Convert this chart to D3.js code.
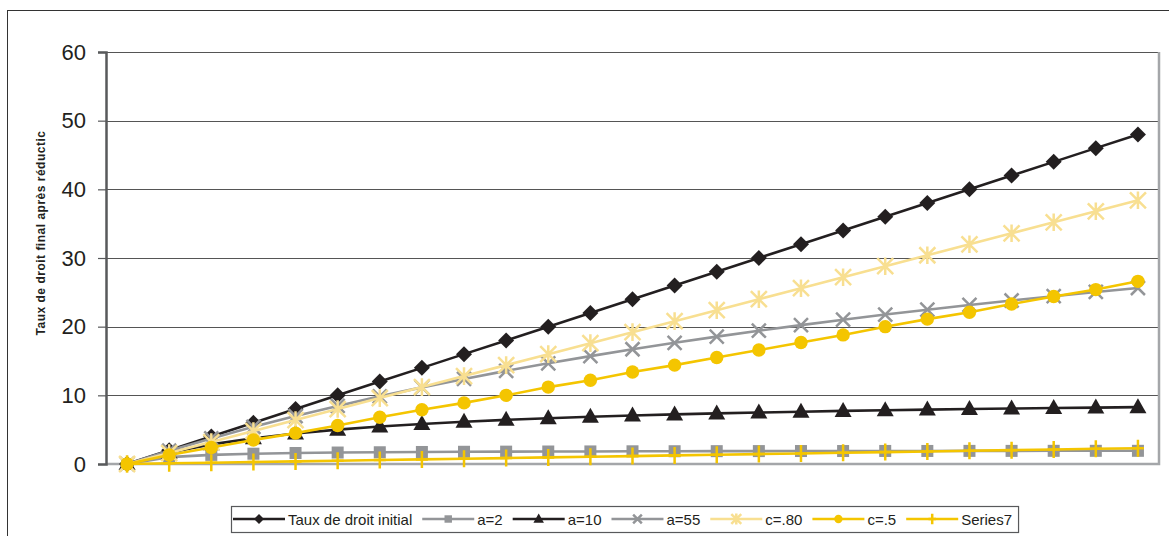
<!DOCTYPE html>
<html>
<head>
<meta charset="utf-8">
<script src="https://cdn.jsdelivr.net/npm/d3@7"></script>
<style>
  body { margin: 0; background: #fff; }
  svg { display: block; font-family: "Liberation Sans", Arial, sans-serif; }
</style>
</head>
<body>
<div id="chart"></div>
<script>
const width = 1169,
      height = 536;

// initial rate (categories) and the reduced rates
const rates = [0, 2, 4, 6, 8, 10, 12, 14, 16, 18, 20, 22, 24, 26, 28, 30, 32, 34, 36, 38, 40, 42, 44, 46, 48];

const initial = [0, 2, 4, 6, 8, 10, 12, 14, 16, 18, 20, 22, 24, 26, 28, 30, 32, 34, 36, 38, 40, 42, 44, 46, 48];
const a2 = [0, 1, 1.33, 1.5, 1.6, 1.67, 1.71, 1.75, 1.78, 1.8, 1.82, 1.83, 1.85, 1.86, 1.87, 1.88, 1.89, 1.89, 1.9, 1.9, 1.91, 1.91, 1.92, 1.92, 1.92];
const a10 = [0, 1.67, 2.86, 3.75, 4.44, 5, 5.45, 5.83, 6.15, 6.43, 6.67, 6.88, 7.06, 7.22, 7.37, 7.5, 7.62, 7.73, 7.83, 7.92, 8, 8.08, 8.15, 8.21, 8.28];
const a55 = [0, 1.93, 3.73, 5.41, 6.98, 8.46, 9.85, 11.16, 12.39, 13.56, 14.67, 15.71, 16.71, 17.65, 18.55, 19.41, 20.23, 21.01, 21.76, 22.47, 23.16, 23.81, 24.44, 25.05, 25.63];
const c80 = [0, 1.6, 3.2, 4.8, 6.4, 8, 9.6, 11.2, 12.8, 14.4, 16, 17.6, 19.2, 20.8, 22.4, 24, 25.6, 27.2, 28.8, 30.4, 32, 33.6, 35.2, 36.8, 38.4];
const c5 = [0, 1.3, 2.4, 3.5, 4.5, 5.6, 6.8, 7.9, 8.9, 10, 11.2, 12.2, 13.4, 14.4, 15.5, 16.6, 17.7, 18.8, 20, 21.1, 22.1, 23.3, 24.4, 25.4, 26.6];
const series7 = [0, 0.1, 0.19, 0.29, 0.38, 0.48, 0.58, 0.67, 0.77, 0.86, 0.96, 1.06, 1.15, 1.25, 1.34, 1.44, 1.54, 1.63, 1.73, 1.82, 1.92, 2.02, 2.11, 2.21, 2.3];

const yTicks = [0, 10, 20, 30, 40, 50, 60];
const yTitle = "Taux de droit final après réductic";

const black = "#231f20",
      gray = "#939598",
      pale = "#f8df91",
      yellow = "#f4c500";

const series = [
  { name: "Taux de droit initial", values: initial, color: black, marker: "diamond" },
  { name: "a=2", values: a2, color: gray, marker: "square" },
  { name: "a=10", values: a10, color: black, marker: "triangle" },
  { name: "a=55", values: a55, color: gray, marker: "x" },
  { name: "c=.80", values: c80, color: pale, marker: "star" },
  { name: "c=.5", values: c5, color: yellow, marker: "circle" },
  { name: "Series7", values: series7, color: yellow, marker: "plus" }
];

const plot = { left: 106, right: 1159, top: 52, bottom: 464 };

const x = d3.scalePoint()
    .domain(rates)
    .range([plot.left, plot.right])
    .padding(0.5);

const y = d3.scaleLinear()
    .domain([0, 60])
    .range([plot.bottom, plot.top]);

const svg = d3.select("#chart")
  .append("svg")
    .attr("width", width)
    .attr("height", height);

// outer chart frame
svg.append("rect")
    .attr("x", 7.5)
    .attr("y", 10.5)
    .attr("width", 1200)
    .attr("height", 600)
    .attr("fill", "none")
    .attr("stroke", "#333")
    .attr("stroke-width", 1);

// gridlines
svg.append("g")
  .selectAll("line")
  .data(yTicks.filter(d => d > 0))
  .enter()
  .append("line")
    .attr("x1", plot.left)
    .attr("x2", plot.right)
    .attr("y1", d => Math.round(y(d)) + 0.5)
    .attr("y2", d => Math.round(y(d)) + 0.5)
    .attr("stroke", "#555")
    .attr("stroke-width", 1.2);

// plot area border (right + bottom)
svg.append("path")
    .attr("d", `M${plot.left},${plot.bottom}H${plot.right}V${plot.top}`)
    .attr("fill", "none")
    .attr("stroke", "#a4a6a9")
    .attr("stroke-width", 2.5);

// y axis
const yAxis = svg.append("g")
    .attr("transform", `translate(${plot.left},0)`)
    .call(d3.axisLeft(y).tickValues(yTicks).tickSize(8).tickPadding(12));

yAxis.select(".domain")
    .attr("stroke", "#58595b")
    .attr("stroke-width", 2.5);
yAxis.selectAll(".tick line")
    .attr("stroke", "#58595b")
    .attr("stroke-width", 1.2);
yAxis.selectAll(".tick text")
    .attr("fill", "#231f20")
    .style("font-family", "'Liberation Sans', Arial, sans-serif")
    .style("font-size", "22px");

// y title
svg.append("text")
    .attr("transform", "translate(45,233) rotate(-90)")
    .attr("text-anchor", "middle")
    .attr("fill", "#231f20")
    .style("font-size", "12px")
    .style("font-weight", "bold")
    .style("letter-spacing", "0.5px")
    .text(yTitle);

// marker drawing
function drawMarker(sel, type, color, s) {
  if (type === "diamond") {
    sel.append("path")
        .attr("d", `M0,${-8 * s}L${8 * s},0L0,${8 * s}L${-8 * s},0Z`)
        .attr("fill", color);
  } else if (type === "square") {
    sel.append("rect")
        .attr("x", -6 * s).attr("y", -6 * s)
        .attr("width", 12 * s).attr("height", 12 * s)
        .attr("fill", color);
  } else if (type === "triangle") {
    sel.append("path")
        .attr("d", `M0,${-9 * s}L${8.5 * s},${6 * s}L${-8.5 * s},${6 * s}Z`)
        .attr("fill", color);
  } else if (type === "circle") {
    sel.append("circle")
        .attr("r", 6.7 * s)
        .attr("fill", color);
  } else if (type === "x") {
    const r = 7 * s;
    sel.append("path")
        .attr("d", `M${-r},${-r}L${r},${r}M${-r},${r}L${r},${-r}`)
        .attr("stroke", color)
        .attr("stroke-width", 2.5)
        .attr("fill", "none");
  } else if (type === "star") {
    const r = 8 * s;
    sel.append("path")
        .attr("d", `M${-r},${-r}L${r},${r}M${-r},${r}L${r},${-r}M0,${-r * 1.1}V${r * 1.1}`)
        .attr("stroke", color)
        .attr("stroke-width", 2.5)
        .attr("fill", "none");
  } else if (type === "plus") {
    sel.append("path")
        .attr("d", `M0,${-8.5 * s}V${8.5 * s}M${-6 * s},0H${6 * s}`)
        .attr("stroke", color)
        .attr("stroke-width", 2.5)
        .attr("fill", "none");
  }
}

const line = d3.line()
    .x((d, i) => x(rates[i]))
    .y(d => y(d));

series.forEach(sr => {
  const g = svg.append("g").attr("class", "series");

  g.append("path")
      .datum(sr.values)
      .attr("fill", "none")
      .attr("stroke", sr.color)
      .attr("stroke-width", 2.6)
      .attr("d", line);

  g.selectAll("g")
    .data(sr.values)
    .enter()
    .append("g")
      .attr("transform", (d, i) => `translate(${x(rates[i])},${y(d)})`)
      .each(function() { drawMarker(d3.select(this), sr.marker, sr.color, 1); });
});

// legend
const legend = svg.append("g");
const legendBox = legend.append("rect")
    .attr("fill", "#fff")
    .attr("stroke", "#58595b")
    .attr("stroke-width", 1.2);

let lx = 233;
const ly = 519;
series.forEach(sr => {
  const item = legend.append("g");
  item.append("line")
      .attr("x1", lx).attr("x2", lx + 52)
      .attr("y1", ly).attr("y2", ly)
      .attr("stroke", sr.color)
      .attr("stroke-width", 2.6);
  const m = item.append("g").attr("transform", `translate(${lx + 26},${ly})`);
  drawMarker(m, sr.marker, sr.color, 0.62);
  const t = item.append("text")
      .attr("x", lx + 55)
      .attr("y", ly + 5.5)
      .attr("fill", "#231f20")
      .style("font-size", "15px")
      .text(sr.name);
  lx += 55 + t.node().getComputedTextLength() + 10;
});

legendBox
    .attr("x", 231.5)
    .attr("y", 506.5)
    .attr("width", lx - 231 - 4)
    .attr("height", 26);
</script>
</body>
</html>
